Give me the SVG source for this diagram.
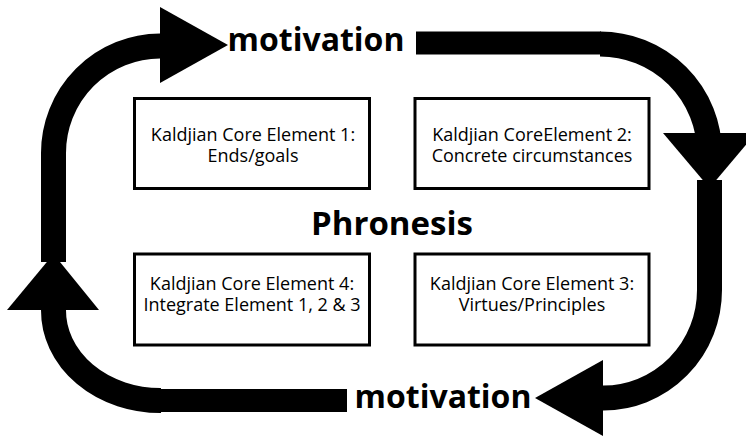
<svg xmlns="http://www.w3.org/2000/svg" width="746" height="437" viewBox="0 0 746 437">
<style>
.shaft{fill:none;stroke:#000;stroke-width:25}
.thin{stroke-width:23}
.head{fill:#000}
.box{fill:#fff;stroke:#000;stroke-width:3}
.t{font-family:"Open Sans","Noto Sans",sans-serif;font-size:18px;fill:#000;text-anchor:middle}
.b{font-family:"Open Sans","Noto Sans",sans-serif;font-weight:bold;fill:#000;text-anchor:middle}
</style>
<rect width="746" height="437" fill="#fff"/>
<g id="connectors">
<path class="shaft thin" d="M347 400.5 H160"/>
<path class="shaft" d="M161 400.5 A107 90 0 0 1 53.5 310 V270"/>
<polygon class="head" points="7,310 99,310 53.5,254"/>
<path class="shaft" d="M53.5 262 V153 A107 107 0 0 1 160 46 H166"/>
<polygon class="head" points="160,7 160,83 228,45"/>
<path class="shaft thin" d="M416 43 H601"/>
<path class="shaft" d="M600 44 A109.5 109 0 0 1 709.5 153"/>
<polygon class="head" points="663,133 756,133 709.5,188"/>
<path class="shaft" d="M709.5 180 V290 A106 108 0 0 1 603 398 H598"/>
<polygon class="head" points="603,360 603,436 535,398"/>
</g>
<g id="label-top"><text class="b" x="316" y="51" font-size="32">motivation</text></g>
<g id="label-bottom"><text class="b" x="443" y="408" font-size="32">motivation</text></g>
<g id="phronesis"><text class="b" x="392" y="235" font-size="33">Phronesis</text></g>
<g id="element1">
<rect class="box" x="134.5" y="98.5" width="235" height="90"/>
<text class="t" x="253" y="141">Kaldjian Core Element 1:</text>
<text class="t" x="253" y="162">Ends/goals</text>
</g>
<g id="element2">
<rect class="box" x="415" y="98.5" width="234" height="90"/>
<text class="t" x="532" y="141">Kaldjian CoreElement 2:</text>
<text class="t" x="532" y="162">Concrete circumstances</text>
</g>
<g id="element4">
<rect class="box" x="134.5" y="254" width="235" height="91"/>
<text class="t" x="252" y="290">Kaldjian Core Element 4:</text>
<text class="t" x="252" y="311">Integrate Element 1, 2 &amp; 3</text>
</g>
<g id="element3">
<rect class="box" x="415" y="254" width="234" height="91"/>
<text class="t" x="532" y="290">Kaldjian Core Element 3:</text>
<text class="t" x="532" y="311">Virtues/Principles</text>
</g>
</svg>
